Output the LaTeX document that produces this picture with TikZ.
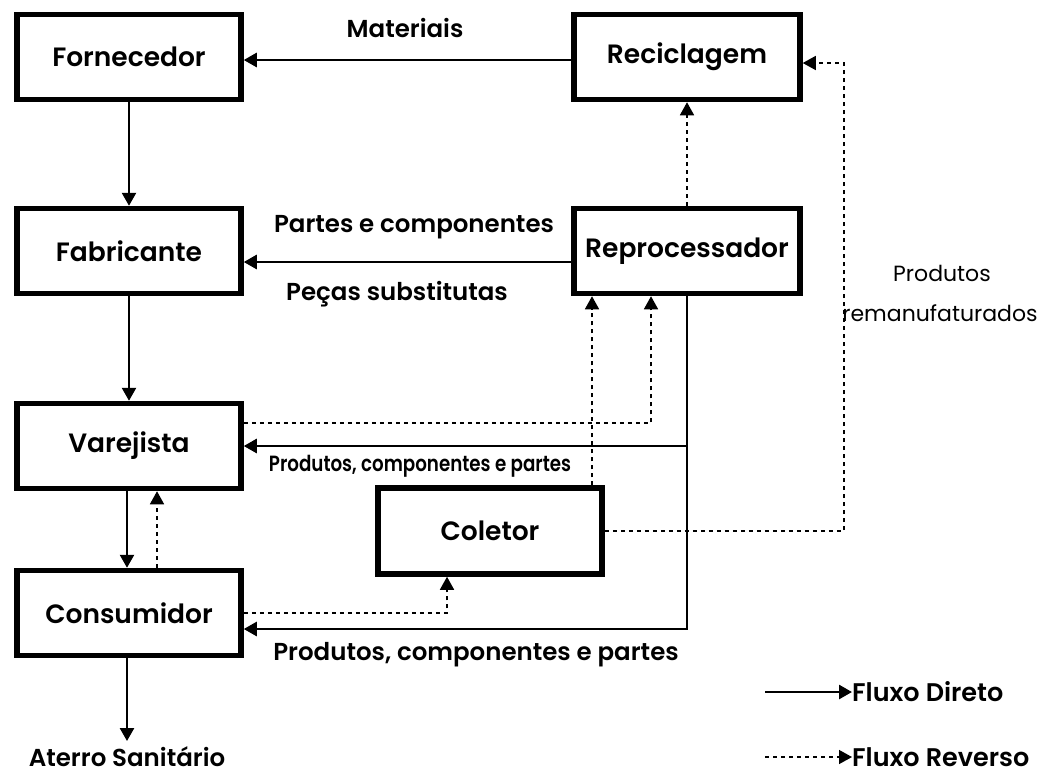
\documentclass[tikz,border=0pt]{standalone}
\usepackage{fontspec}
\usepackage{graphicx}
\setmainfont{Poppins}[BoldFont={Poppins SemiBold}]
\usetikzlibrary{arrows.meta}
\begin{document}
\begin{tikzpicture}[x=1pt,y=-1pt,
  box/.style={draw, line width=5.5pt, minimum width=224pt, minimum height=85pt, inner sep=0pt, font=\fontsize{26.5}{30}\selectfont\bfseries},
  lbl/.style={inner sep=0pt, font=\fontsize{24.5}{28}\selectfont\bfseries},
  small/.style={inner sep=0pt, font=\fontsize{22}{26}\selectfont},
  flow/.style={line width=2.6pt, -{Triangle[length=13pt,width=14pt]}},
  rev/.style={line width=1.5pt, dash pattern=on 4pt off 4pt, -{Triangle[length=13pt,width=14pt]}}]
\useasboundingbox (0,0) rectangle (1040,774);
\node[box] (forn) at (129,57) {Fornecedor};
\node[box, minimum width=226pt] (reci) at (687,57) {Reciclagem};
\node[box] (fabr) at (129,251) {Fabricante};
\node[box, minimum width=226pt] (repr) at (687,251) {Reprocessador};
\node[box] (vare) at (129,446) {Varejista};
\node[box] (cons) at (129,613) {Consumidor};
\node[box, minimum height=86pt] (cole) at (490,531) {Coletor};
\node[lbl] (mat) at (405,28) {Materiais};
\node[lbl] (pc) at (414,227) {Partes e componentes};
\node[lbl] (ps) at (397,294) {Peças substitutas};
\node[small] (pcp1) at (420,466) {\scalebox{0.83}[1]{\bfseries Produtos, componentes e partes}};
\node[lbl] (pcp2) at (476,655) {Produtos, componentes e partes};
\node[small] (prod) at (942,273) {Produtos};
\node[small] (reman) at (940,313) {remanufaturados};
\node[lbl, anchor=north] (ater) at (127,746) {Aterro Sanitário};
\node[lbl, font=\fontsize{25.5}{29}\selectfont\bfseries, anchor=west] (ld) at (852,692) {Fluxo Direto};
\node[lbl, font=\fontsize{25.5}{29}\selectfont\bfseries, anchor=west] (lr) at (852,757) {Fluxo Reverso};
\coordinate (l1) at (765,692);
\coordinate (l2) at (765,757);
% direct flows
\draw[flow] ([yshift=-3pt]reci.west) -- ([yshift=-3pt]forn.east);
\draw[flow] (forn.south) -- (fabr.north);
\draw[flow] ([yshift=-11pt]repr.west) -- ([yshift=-11pt]fabr.east);
\draw[flow] (fabr.south) -- (vare.north);
\draw[flow] ([xshift=-2pt]vare.south) -- ([xshift=-2pt]cons.north);
\draw[flow] (repr.south |- vare.east) -- (vare.east);
\draw[flow] (repr.south) |- ([yshift=-16pt]cons.east);
\draw[flow] ([xshift=-2pt]cons.south) -- ([yshift=5pt]ater.north);
\draw[flow] (l1) -- (ld.west);
% reverse flows
\draw[rev] (repr.north) -- (reci.south);
\draw[rev] ([xshift=28pt]cons.north) -- ([xshift=28pt]vare.south);
\draw[rev] ([yshift=23pt]vare.east) -| ([xshift=-36pt]repr.south);
\draw[rev] ([xshift=102pt]cole.north) -- ([xshift=-95pt]repr.south);
\draw[rev] (cole.east) -| ([xshift=41pt,yshift=-6pt]reci.east) -- ([yshift=-6pt]reci.east);
\draw[rev] (cons.east) -| ([xshift=-43pt]cole.south);
\draw[rev] (l2) -- (lr.west);
\end{tikzpicture}
\end{document}
